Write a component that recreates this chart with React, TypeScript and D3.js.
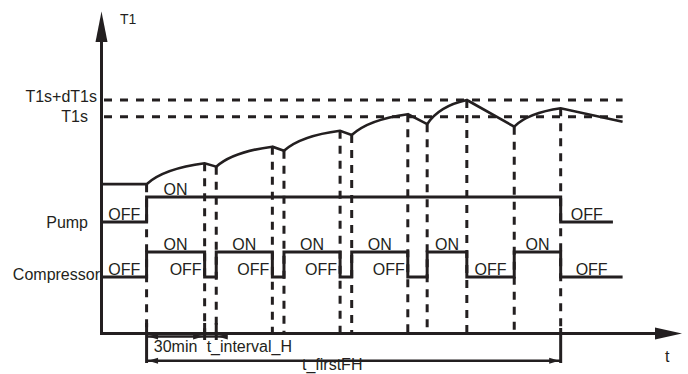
import { useEffect, useRef } from 'react';
import * as d3 from 'd3';

const WIDTH = 688;
const HEIGHT = 374;
const INK = '#231f20';
const FONT = '"Liberation Sans", Arial, sans-serif';

// time axis (minutes, 0 = pump start)
const AXIS_T: [number, number] = [-23.3, 276.7];
// switching instants of the compressor / sample points of T1
const EVENTS = [-23, 0, 30, 36, 65, 71, 100, 106, 135, 145, 165.5, 190, 214, 246];
// water temperature T1 at each instant
const T1_VALUES = [36.9, 36.9, 39.4, 39.0, 41.4, 40.9, 43.3, 42.8, 45.3, 44.1, 47.0, 43.8, 46.0, 44.4];
// compressor state after each instant (1 = ON)
const COMP_STATE = [0, 1, 0, 1, 0, 1, 0, 1, 0, 1, 0, 1, 0, 0];
// pump
const PUMP_TIMES = [-23, 0, 214, 241];
const PUMP_STATE = [0, 1, 0, 0];
const PUMP_LABELS = ['OFF', 'ON', 'OFF'];
const PUMP_LABEL_T = [-11.5, 15, 227.5];
// set points
const T1S = 45;
const DT1S = 2;
const SIGNALS = ['Pump', 'Compressor'];
// time dimensions
const DIM_LABELS = ['30min', 't_interval_H', 't_firstFH'];
const DIM_FROM = [0, 30, 0];
const DIM_TO = [30, 36, 214];

export default function App() {
  const svgRef = useRef<SVGSVGElement>(null);

  useEffect(() => {
    if (!svgRef.current) return;
    const svg = d3.select(svgRef.current);
    svg.selectAll('*').remove();

    const x = d3.scaleLinear().domain(AXIS_T).range([101.5, 682]);
    const yT = d3.scaleLinear().domain([35, 50]).range([200, 75]);
    const row = d3.scalePoint<string>().domain(SIGNALS).range([222, 277]);
    const level = (sig: string, s: number) => (row(sig) as number) - s * 25;
    const axisY = 333.5;
    const tEnd = EVENTS[EVENTS.length - 1];

    const arrowHead = (px: number, py: number, dir: number, len = 10, hw = 3) => {
      svg.append('path')
        .attr('d', `M${px},${py}L${px - dir * len},${py - hw}L${px - dir * len},${py + hw}Z`)
        .attr('fill', INK);
    };
    const text = (s: string, tx: number, ty: number, anchor = 'middle', size = 16) =>
      svg.append('text')
        .attr('x', tx).attr('y', ty)
        .attr('text-anchor', anchor)
        .attr('font-family', FONT)
        .attr('font-size', size)
        .attr('fill', INK)
        .text(s);

    // set point lines
    [T1S + DT1S, T1S].forEach(v => {
      svg.append('line')
        .attr('x1', 104).attr('x2', x(tEnd))
        .attr('y1', yT(v)).attr('y2', yT(v))
        .attr('stroke', INK).attr('stroke-width', 3)
        .attr('stroke-dasharray', '8,8');
    });
    text('T1s+dT1s', 97, yT(T1S + DT1S) + 1.5, 'end');
    text('T1s', 88, yT(T1S) + 5, 'end');

    // vertical switching lines
    EVENTS.slice(1, -1).forEach((t, i) => {
      svg.append('line')
        .attr('x1', x(t)).attr('x2', x(t))
        .attr('y1', yT(T1_VALUES[i + 1])).attr('y2', axisY)
        .attr('stroke', INK).attr('stroke-width', 3)
        .attr('stroke-dasharray', '8,7');
    });

    // T1 curve: rising while heating, straight when falling
    const p = d3.path();
    p.moveTo(x(EVENTS[0]), yT(T1_VALUES[0]));
    for (let i = 1; i < EVENTS.length; i++) {
      const x0 = x(EVENTS[i - 1]), y0 = yT(T1_VALUES[i - 1]);
      const x1 = x(EVENTS[i]), y1 = yT(T1_VALUES[i]);
      if (T1_VALUES[i] > T1_VALUES[i - 1]) {
        p.quadraticCurveTo(x0 + (x1 - x0) * 0.3, y1 + (y0 - y1) * 0.25, x1, y1);
      } else {
        p.lineTo(x1, y1);
      }
    }
    svg.append('path')
      .attr('d', p.toString())
      .attr('fill', 'none')
      .attr('stroke', INK)
      .attr('stroke-width', 2.6)
      .attr('stroke-linejoin', 'miter');

    // step signals
    const step = d3.line<[number, number]>().curve(d3.curveStepAfter);
    const pumpPts = PUMP_TIMES.map((t, i) => [x(t), level('Pump', PUMP_STATE[i])] as [number, number]);
    const compPts = EVENTS.map((t, i) => [x(t), level('Compressor', COMP_STATE[i])] as [number, number]);
    [pumpPts, compPts].forEach(pts => {
      svg.append('path')
        .attr('d', step(pts))
        .attr('fill', 'none')
        .attr('stroke', INK)
        .attr('stroke-width', 3);
    });

    // state labels
    PUMP_LABELS.forEach((s, i) => {
      text(s, x(PUMP_LABEL_T[i]), level('Pump', s === 'ON' ? 1 : 0) - 2.5);
    });
    for (let i = 0; i < EVENTS.length - 1; i++) {
      const t0 = EVENTS[i], t1 = EVENTS[i + 1];
      const on = COMP_STATE[i] === 1;
      if (on) {
        text('ON', x((t0 + t1) / 2), level('Compressor', 1) - 2.5);
      } else if (t1 - t0 > 15) {
        text('OFF', x((t0 + t1) / 2), level('Compressor', 0) - 2.5);
      } else {
        text('OFF', x(t0) - 3, level('Compressor', 0) - 2.5, 'end');
      }
    }
    text('Pump', 88, (row('Pump') as number) + 6, 'end');
    text('Compressor', 100, (row('Compressor') as number) + 3, 'end');

    // axes
    svg.append('line')
      .attr('x1', x(AXIS_T[0])).attr('x2', x(AXIS_T[0]))
      .attr('y1', 40).attr('y2', axisY + 1.5)
      .attr('stroke', INK).attr('stroke-width', 3);
    svg.append('line')
      .attr('x1', x(AXIS_T[0]) - 1.5).attr('x2', 657)
      .attr('y1', axisY).attr('y2', axisY)
      .attr('stroke', INK).attr('stroke-width', 3);
    svg.append('path')
      .attr('d', `M${x(AXIS_T[0])},11.5L${x(AXIS_T[0]) - 6},42L${x(AXIS_T[0]) + 6},42Z`)
      .attr('fill', INK);
    arrowHead(x(AXIS_T[1]), axisY, 1, 27, 6);
    text('T1', 120, 24, 'start', 14);
    text('t', 665, 362, 'start', 16);

    // dimension extension lines
    [[0, 323, 363], [30, 323, 340], [36, 323, 340], [214, 328, 363]].forEach(([t, a, b]) => {
      svg.append('line')
        .attr('x1', x(t)).attr('x2', x(t))
        .attr('y1', a).attr('y2', b)
        .attr('stroke', INK).attr('stroke-width', 3);
    });

    // 30min
    const dimY = 336.5;
    svg.append('line')
      .attr('x1', x(DIM_FROM[0])).attr('x2', x(DIM_TO[0]))
      .attr('y1', dimY).attr('y2', dimY)
      .attr('stroke', INK).attr('stroke-width', 2.4);
    arrowHead(x(DIM_FROM[0]) + 1.5, dimY, -1);
    arrowHead(x(DIM_TO[0]) - 1.5, dimY, 1);
    text(DIM_LABELS[0], (x(DIM_FROM[0]) + x(DIM_TO[0])) / 2, 351.5);

    // t_interval_H (arrow from outside)
    svg.append('line')
      .attr('x1', x(DIM_FROM[1])).attr('x2', x(DIM_TO[1]) + 11)
      .attr('y1', dimY).attr('y2', dimY)
      .attr('stroke', INK).attr('stroke-width', 2.4);
    arrowHead(x(DIM_TO[1]) + 1.5, dimY, -1);
    text(DIM_LABELS[1], x(DIM_FROM[1]) + 2, 351.5, 'start');

    // t_firstFH
    const dimY2 = 360.7;
    svg.append('line')
      .attr('x1', x(DIM_FROM[2])).attr('x2', x(DIM_TO[2]))
      .attr('y1', dimY2).attr('y2', dimY2)
      .attr('stroke', INK).attr('stroke-width', 2.4);
    arrowHead(x(DIM_FROM[2]) + 1.5, dimY2, -1);
    arrowHead(x(DIM_TO[2]) - 1.5, dimY2, 1);
    text(DIM_LABELS[2], 302, 370, 'start');
  }, []);

  return (
    <svg
      ref={svgRef}
      width={WIDTH}
      height={HEIGHT}
      style={{ position: 'absolute', left: 0, top: 0, background: '#fff' }}
    />
  );
}
